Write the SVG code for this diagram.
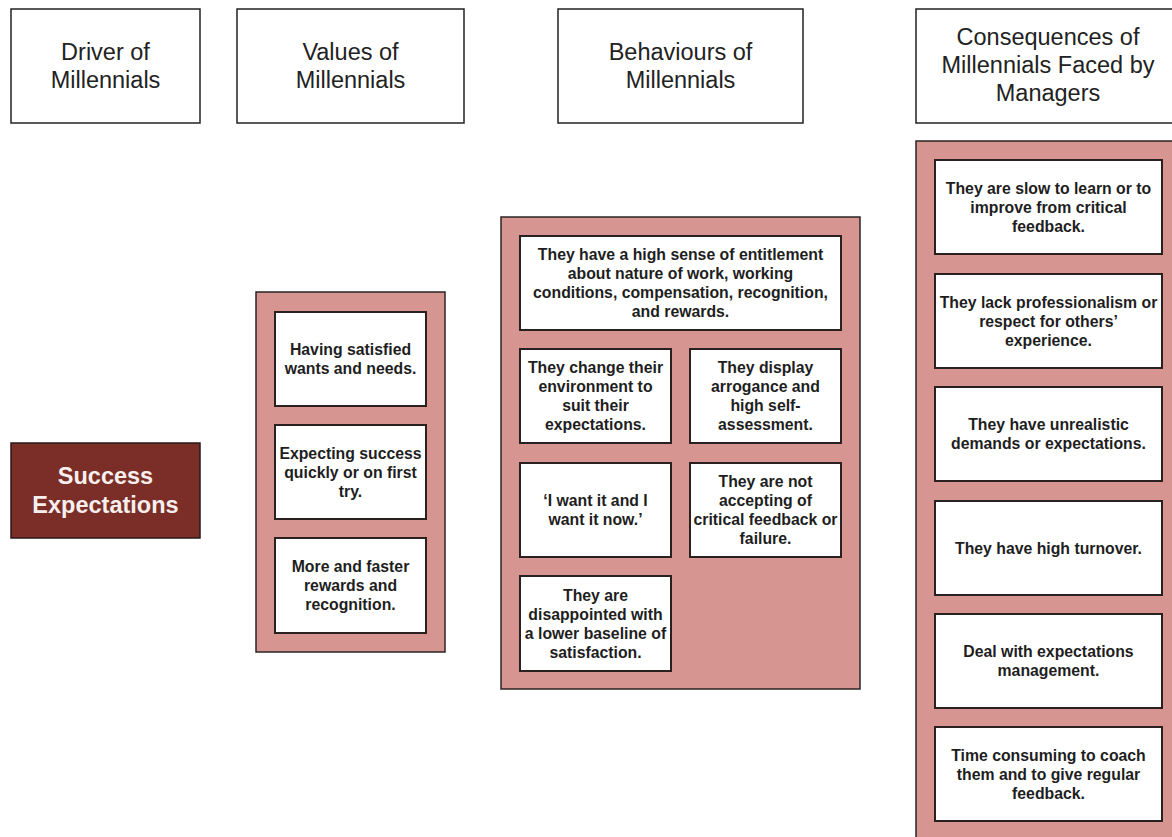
<svg xmlns="http://www.w3.org/2000/svg" width="1172" height="837" viewBox="0 0 1172 837">
  <style>
    .hdr { fill: #ffffff; stroke: #222222; stroke-width: 1.5; }
    .hdr-t { font-family: "Liberation Sans", Arial, sans-serif; font-size: 23.5px; fill: #222222; text-anchor: middle; }
    .panel { fill: #d79592; stroke: #2b2424; stroke-width: 1.5; }
    .card { fill: #ffffff; stroke: #2a2020; stroke-width: 2; }
    .card-t { font-family: "Liberation Sans", Arial, sans-serif; font-size: 15.8px; font-weight: bold; fill: #1e1e1e; text-anchor: middle; }
    .driver { fill: #7a2e27; stroke: #2a1a18; stroke-width: 1.5; }
    .driver-t { font-family: "Liberation Sans", Arial, sans-serif; font-size: 23.5px; font-weight: bold; fill: #f7efee; text-anchor: middle; }
  </style>
  <rect width="1172" height="837" fill="#ffffff"/>

  <!-- Column headers -->
  <g id="hdr-driver">
    <rect class="hdr" x="11" y="9" width="189" height="114"/>
    <text class="hdr-t" x="105.5" y="60">Driver of</text>
    <text class="hdr-t" x="105.5" y="88">Millennials</text>
  </g>
  <g id="hdr-values">
    <rect class="hdr" x="237" y="9" width="227" height="114"/>
    <text class="hdr-t" x="350.5" y="60">Values of</text>
    <text class="hdr-t" x="350.5" y="88">Millennials</text>
  </g>
  <g id="hdr-behaviours">
    <rect class="hdr" x="558" y="9" width="245" height="114"/>
    <text class="hdr-t" x="680.5" y="60">Behaviours of</text>
    <text class="hdr-t" x="680.5" y="88">Millennials</text>
  </g>
  <g id="hdr-consequences">
    <rect class="hdr" x="916" y="9" width="264" height="114"/>
    <text class="hdr-t" x="1048" y="45">Consequences of</text>
    <text class="hdr-t" x="1048" y="73">Millennials Faced by</text>
    <text class="hdr-t" x="1048" y="101">Managers</text>
  </g>

  <!-- Driver -->
  <g id="driver-success">
    <rect class="driver" x="11" y="443" width="189" height="95"/>
    <text class="driver-t" x="105.5" y="484">Success</text>
    <text class="driver-t" x="105.5" y="513">Expectations</text>
  </g>

  <!-- Values -->
  <g id="values">
    <rect class="panel" x="256" y="292" width="189" height="360"/>
    <g id="value-1">
      <rect class="card" x="275" y="312" width="151" height="94"/>
      <text class="card-t" x="350.5" y="355">Having satisfied</text>
      <text class="card-t" x="350.5" y="374">wants and needs.</text>
    </g>
    <g id="value-2">
      <rect class="card" x="275" y="425" width="151" height="94"/>
      <text class="card-t" x="350.5" y="458.5">Expecting success</text>
      <text class="card-t" x="350.5" y="477.5">quickly or on first</text>
      <text class="card-t" x="350.5" y="496.5">try.</text>
    </g>
    <g id="value-3">
      <rect class="card" x="275" y="538" width="151" height="95"/>
      <text class="card-t" x="350.5" y="572">More and faster</text>
      <text class="card-t" x="350.5" y="591">rewards and</text>
      <text class="card-t" x="350.5" y="610">recognition.</text>
    </g>
  </g>

  <!-- Behaviours -->
  <g id="behaviours">
    <rect class="panel" x="501" y="217" width="359" height="472"/>
    <g id="behaviour-entitlement">
      <rect class="card" x="520" y="236" width="321" height="94"/>
      <text class="card-t" x="680.5" y="260">They have a high sense of entitlement</text>
      <text class="card-t" x="680.5" y="279">about nature of work, working</text>
      <text class="card-t" x="680.5" y="298">conditions, compensation, recognition,</text>
      <text class="card-t" x="680.5" y="317">and rewards.</text>
    </g>
    <g id="behaviour-environment">
      <rect class="card" x="520" y="349" width="151" height="94"/>
      <text class="card-t" x="595.5" y="373">They change their</text>
      <text class="card-t" x="595.5" y="392">environment to</text>
      <text class="card-t" x="595.5" y="411">suit their</text>
      <text class="card-t" x="595.5" y="430">expectations.</text>
    </g>
    <g id="behaviour-arrogance">
      <rect class="card" x="690" y="349" width="151" height="94"/>
      <text class="card-t" x="765.5" y="373">They display</text>
      <text class="card-t" x="765.5" y="392">arrogance and</text>
      <text class="card-t" x="765.5" y="411">high self-</text>
      <text class="card-t" x="765.5" y="430">assessment.</text>
    </g>
    <g id="behaviour-now">
      <rect class="card" x="520" y="463" width="151" height="94"/>
      <text class="card-t" x="595.5" y="506">‘I want it and I</text>
      <text class="card-t" x="595.5" y="525">want it now.’</text>
    </g>
    <g id="behaviour-feedback">
      <rect class="card" x="690" y="463" width="151" height="94"/>
      <text class="card-t" x="765.5" y="487">They are not</text>
      <text class="card-t" x="765.5" y="506">accepting of</text>
      <text class="card-t" x="765.5" y="525">critical feedback or</text>
      <text class="card-t" x="765.5" y="544">failure.</text>
    </g>
    <g id="behaviour-disappointed">
      <rect class="card" x="520" y="576" width="151" height="95"/>
      <text class="card-t" x="595.5" y="600.5">They are</text>
      <text class="card-t" x="595.5" y="619.5">disappointed with</text>
      <text class="card-t" x="595.5" y="638.5">a lower baseline of</text>
      <text class="card-t" x="595.5" y="657.5">satisfaction.</text>
    </g>
  </g>

  <!-- Consequences -->
  <g id="consequences">
    <rect class="panel" x="916" y="141" width="264" height="720"/>
    <g id="consequence-1">
      <rect class="card" x="935" y="160" width="227" height="94"/>
      <text class="card-t" x="1048.5" y="193.5">They are slow to learn or to</text>
      <text class="card-t" x="1048.5" y="212.5">improve from critical</text>
      <text class="card-t" x="1048.5" y="231.5">feedback.</text>
    </g>
    <g id="consequence-2">
      <rect class="card" x="935" y="274" width="227" height="94"/>
      <text class="card-t" x="1048.5" y="307.5">They lack professionalism or</text>
      <text class="card-t" x="1048.5" y="326.5">respect for others’</text>
      <text class="card-t" x="1048.5" y="345.5">experience.</text>
    </g>
    <g id="consequence-3">
      <rect class="card" x="935" y="387" width="227" height="94"/>
      <text class="card-t" x="1048.5" y="430">They have unrealistic</text>
      <text class="card-t" x="1048.5" y="449">demands or expectations.</text>
    </g>
    <g id="consequence-4">
      <rect class="card" x="935" y="501" width="227" height="94"/>
      <text class="card-t" x="1048.5" y="553.5">They have high turnover.</text>
    </g>
    <g id="consequence-5">
      <rect class="card" x="935" y="614" width="227" height="94"/>
      <text class="card-t" x="1048.5" y="657">Deal with expectations</text>
      <text class="card-t" x="1048.5" y="676">management.</text>
    </g>
    <g id="consequence-6">
      <rect class="card" x="935" y="727" width="227" height="94"/>
      <text class="card-t" x="1048.5" y="760.5">Time consuming to coach</text>
      <text class="card-t" x="1048.5" y="779.5">them and to give regular</text>
      <text class="card-t" x="1048.5" y="798.5">feedback.</text>
    </g>
  </g>
</svg>
